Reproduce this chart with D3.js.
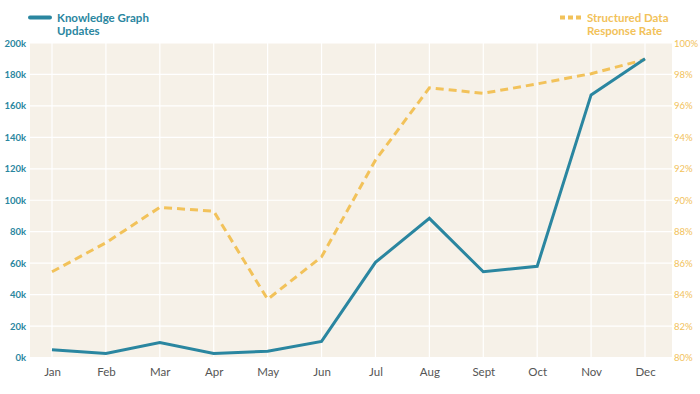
<!DOCTYPE html>
<html>
<head>
<meta charset="utf-8">
<script src="https://cdn.jsdelivr.net/npm/d3@7"></script>
<style>
  html, body { margin: 0; padding: 0; background: #ffffff; }
  svg { display: block; font-family: Lato, "Open Sans", sans-serif; }
</style>
</head>
<body>
<svg id="chart" width="700" height="394"></svg>
<script>
const months = ["Jan","Feb","Mar","Apr","May","Jun","Jul","Aug","Sept","Oct","Nov","Dec"];
const kgUpdates = [5000, 2500, 9500, 2500, 4000, 10200, 60500, 88500, 54500, 58000, 167000, 190000];
const responseRate = [85.45, 87.3, 89.55, 89.3, 83.7, 86.4, 92.55, 97.15, 96.8, 97.4, 98.05, 98.95];
const leftTicks = [0, 20000, 40000, 60000, 80000, 100000, 120000, 140000, 160000, 180000, 200000];
const rightTicks = [80, 82, 84, 86, 88, 90, 92, 94, 96, 98, 100];
const legendLabels = [["Knowledge Graph", "Updates"], ["Structured Data", "Response Rate"]];

const TEAL = "#2a86a0";
const GOLD = "#f2c25a";
const svg = d3.select("#chart");

const plot = { left: 30, right: 672, top: 43, bottom: 357.5 };

const x = d3.scalePoint().domain(months).range([52, 645]);
const yL = d3.scaleLinear().domain([0, 200000]).range([plot.bottom, plot.top]);
const yR = d3.scaleLinear().domain([80, 100]).range([plot.bottom, plot.top]);

// background
svg.append("rect")
  .attr("x", plot.left).attr("y", plot.top)
  .attr("width", plot.right - plot.left).attr("height", plot.bottom - plot.top)
  .attr("fill", "#f6f1e8");

// grid
const grid = svg.append("g");
grid.selectAll("line.h").data(leftTicks).join("line")
  .attr("x1", plot.left).attr("x2", plot.right)
  .attr("y1", d => yL(d)).attr("y2", d => yL(d))
  .attr("stroke", "#ffffff").attr("stroke-width", 1.2);
grid.selectAll("line.v").data(months).join("line")
  .attr("x1", d => x(d)).attr("x2", d => x(d))
  .attr("y1", plot.top).attr("y2", plot.bottom)
  .attr("stroke", "#ffffff").attr("stroke-width", 1.2);

// left axis
const axL = d3.axisLeft(yL).tickValues(leftTicks).tickSize(0).tickPadding(0)
  .tickFormat(d => (d / 1000) + "k");
svg.append("g").attr("transform", "translate(26,0)").call(axL)
  .call(g => g.select(".domain").remove())
  .call(g => g.selectAll("text").attr("fill", TEAL).attr("font-size", 9.5)
    .attr("font-weight", 700).attr("font-family", "Lato, sans-serif"));

// right axis
const axR = d3.axisRight(yR).tickValues(rightTicks).tickSize(0).tickPadding(0)
  .tickFormat(d => d + "%");
svg.append("g").attr("transform", "translate(674,0)").call(axR)
  .call(g => g.select(".domain").remove())
  .call(g => g.selectAll("text").attr("fill", GOLD).attr("font-size", 9.5)
    .attr("font-family", "Lato, sans-serif"));

// bottom axis
const axB = d3.axisBottom(x).tickSize(0).tickPadding(0);
svg.append("g").attr("transform", "translate(0,368)").call(axB)
  .call(g => g.select(".domain").remove())
  .call(g => g.selectAll("text").attr("fill", "#555").attr("font-size", 11.5)
    .attr("font-family", "Lato, sans-serif"));

// lines
const lineR = d3.line().x((d, i) => x(months[i])).y(d => yR(d));
const lineL = d3.line().x((d, i) => x(months[i])).y(d => yL(d));

svg.append("path").datum(responseRate)
  .attr("d", lineR).attr("fill", "none")
  .attr("stroke", GOLD).attr("stroke-width", 3)
  .attr("stroke-dasharray", "8,5");

svg.append("path").datum(kgUpdates)
  .attr("d", lineL).attr("fill", "none")
  .attr("stroke", TEAL).attr("stroke-width", 3)
  .attr("stroke-linejoin", "miter");

// legends
const lg1 = svg.append("g");
lg1.append("line").attr("x1", 30).attr("x2", 50).attr("y1", 17.5).attr("y2", 17.5)
  .attr("stroke", TEAL).attr("stroke-width", 4).attr("stroke-linecap", "round");
lg1.append("text").attr("x", 57).attr("y", 22).attr("fill", TEAL)
  .attr("font-size", 11.5).attr("font-weight", 700)
  .selectAll("tspan").data(legendLabels[0]).join("tspan")
  .attr("x", 57).attr("dy", (d, i) => i === 0 ? 0 : 12.5).text(d => d);

const lg2 = svg.append("g");
lg2.append("line").attr("x1", 560).attr("x2", 582).attr("y1", 17.5).attr("y2", 17.5)
  .attr("stroke", GOLD).attr("stroke-width", 4).attr("stroke-dasharray", "5,3");
lg2.append("text").attr("x", 587).attr("y", 22).attr("fill", GOLD)
  .attr("font-size", 11.5).attr("font-weight", 700)
  .selectAll("tspan").data(legendLabels[1]).join("tspan")
  .attr("x", 587).attr("dy", (d, i) => i === 0 ? 0 : 12.5).text(d => d);
</script>
</body>
</html>
